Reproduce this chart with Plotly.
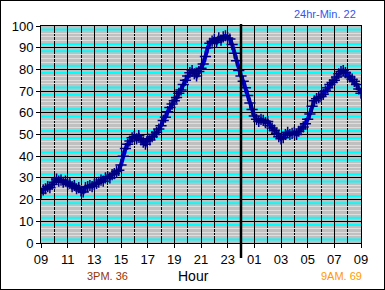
import plotly.graph_objects as go

# time since 09:00, in hours (10-minute samples)
hours = [k / 6 for k in range(145)]
temps = [
    23, 24.5, 25, 26, 25.5, 27, 28, 29.5, 28.5, 29, 28, 28.5,
    27, 27.5, 26, 26.5, 25, 25.5, 24, 23.5, 25.5, 26, 26.5, 26,
    27, 27.5, 28, 29, 28.5, 30, 30.5, 30, 31.5, 32, 33, 33.5,
    36, 40, 43.5, 45.5, 47, 48.5, 49, 48, 49.5, 47.5, 46.5, 45.5,
    48, 47.5, 49, 50, 51, 52.5, 54, 56.5, 58, 60.5, 62.5, 64,
    65.5, 67, 69, 70.5, 73, 75, 77, 78.5, 79.5, 78, 77, 79,
    80.5, 82.5, 86, 90, 92, 93, 94, 92.5, 94.5, 93.5, 95, 95.5,
    94.5, 94, 91.5, 87.5, 84, 79.5, 77, 74.5, 71.5, 68, 64.5, 61.5,
    58.5, 57, 56, 57, 56.5, 55.5, 56, 54, 53, 52, 50.5, 49,
    48, 48.5, 50, 51, 50, 50.5, 51, 50, 51.5, 52.5, 53.5, 55,
    57, 59.5, 63, 65.5, 66.5, 67, 67.5, 68.5, 70, 71.5, 73, 74,
    75, 76.5, 78, 79, 79.5, 78.5, 77, 76.5, 75.5, 74.5, 73, 71,
    69,
]
tick_hours = [0, 2, 4, 6, 8, 10, 12, 14, 16, 18, 20, 22, 24]
tick_labels = ['09', '11', '13', '15', '17', '19', '21', '23', '01', '03', '05', '07', '09']
midnight_hour = 15

# minor horizontal grid lines (every 10/6 units)
light_lines = [d + o for d in range(0, 100, 10) for o in (10 / 3, 5, 20 / 3)]
cyan_lines = [d + o for d in range(0, 100, 10) for o in (5 / 3, 25 / 3)]

L, R, T, B = 41, 24, 26, 47
W, H = 385, 290
pw, ph = W - L - R, H - T - B

fig = go.Figure()
fig.add_trace(go.Scatter(
    x=hours, y=temps, mode='lines+markers',
    line=dict(color='#0000EE', width=4),
    marker=dict(symbol='cross-thin', size=8, color='#000080',
                line=dict(color='#000080', width=1.5)),
    showlegend=False, hoverinfo='skip'))

for v in cyan_lines:
    fig.add_shape(type='line', xref='paper', yref='y', x0=0, x1=1, y0=v, y1=v,
                  line=dict(color='#00FFFF', width=2), layer='below')

# midnight marker
fig.add_shape(type='line', xref='x', yref='paper', x0=midnight_hour, x1=midnight_hour,
              y0=-15 / ph, y1=1 + 2 / ph, line=dict(color='black', width=2.5))

# outer frame
fig.add_shape(type='rect', xref='paper', yref='paper',
              x0=-L / pw, x1=1 + R / pw, y0=-B / ph, y1=1 + T / ph,
              line=dict(color='black', width=2))

fig.update_layout(
    width=W, height=H,
    margin=dict(l=L, r=R, t=T, b=B),
    paper_bgcolor='white', plot_bgcolor='#C0C0C0',
    font=dict(family='Liberation Sans, Arial', color='black'),
    xaxis=dict(range=[0, 24], tickmode='array', tickvals=tick_hours, ticktext=tick_labels,
               showgrid=True, gridcolor='black', gridwidth=1,
               minor=dict(dtick=1, showgrid=True, gridcolor='black', gridwidth=1),
               ticks='outside', ticklen=4, tickcolor='black',
               showline=True, linecolor='black', linewidth=1, mirror=True,
               zeroline=False, tickfont=dict(size=13)),
    yaxis=dict(range=[0, 100], dtick=10, showgrid=True, gridcolor='black', gridwidth=1,
               minor=dict(tickmode='array', tickvals=light_lines, showgrid=True,
                          gridcolor='#DEDEDE', gridwidth=1),
               ticks='outside', ticklen=4, tickcolor='black',
               showline=True, linecolor='black', linewidth=1, mirror=True,
               zeroline=False, tickfont=dict(size=13)),
    annotations=[
        dict(text='24hr-Min. 22', xref='paper', yref='paper', x=(358 - L) / pw, y=1 + (T - 14) / ph,
             xanchor='right', yanchor='middle', showarrow=False,
             font=dict(size=11, color='#3355EE')),
        dict(text='3PM. 36', xref='paper', yref='paper', x=(107 - L) / pw, y=-(276 - (H - B)) / ph,
             xanchor='center', yanchor='middle', showarrow=False,
             font=dict(size=11, color='#993300')),
        dict(text='Hour', xref='paper', yref='paper', x=(193.5 - L) / pw, y=-(276 - (H - B)) / ph,
             xanchor='center', yanchor='middle', showarrow=False,
             font=dict(size=14, color='black')),
        dict(text='9AM. 69', xref='paper', yref='paper', x=(364 - L) / pw, y=-(276 - (H - B)) / ph,
             xanchor='right', yanchor='middle', showarrow=False,
             font=dict(size=11, color='#FF9900')),
    ],
)

fig.write_html('out.html')
